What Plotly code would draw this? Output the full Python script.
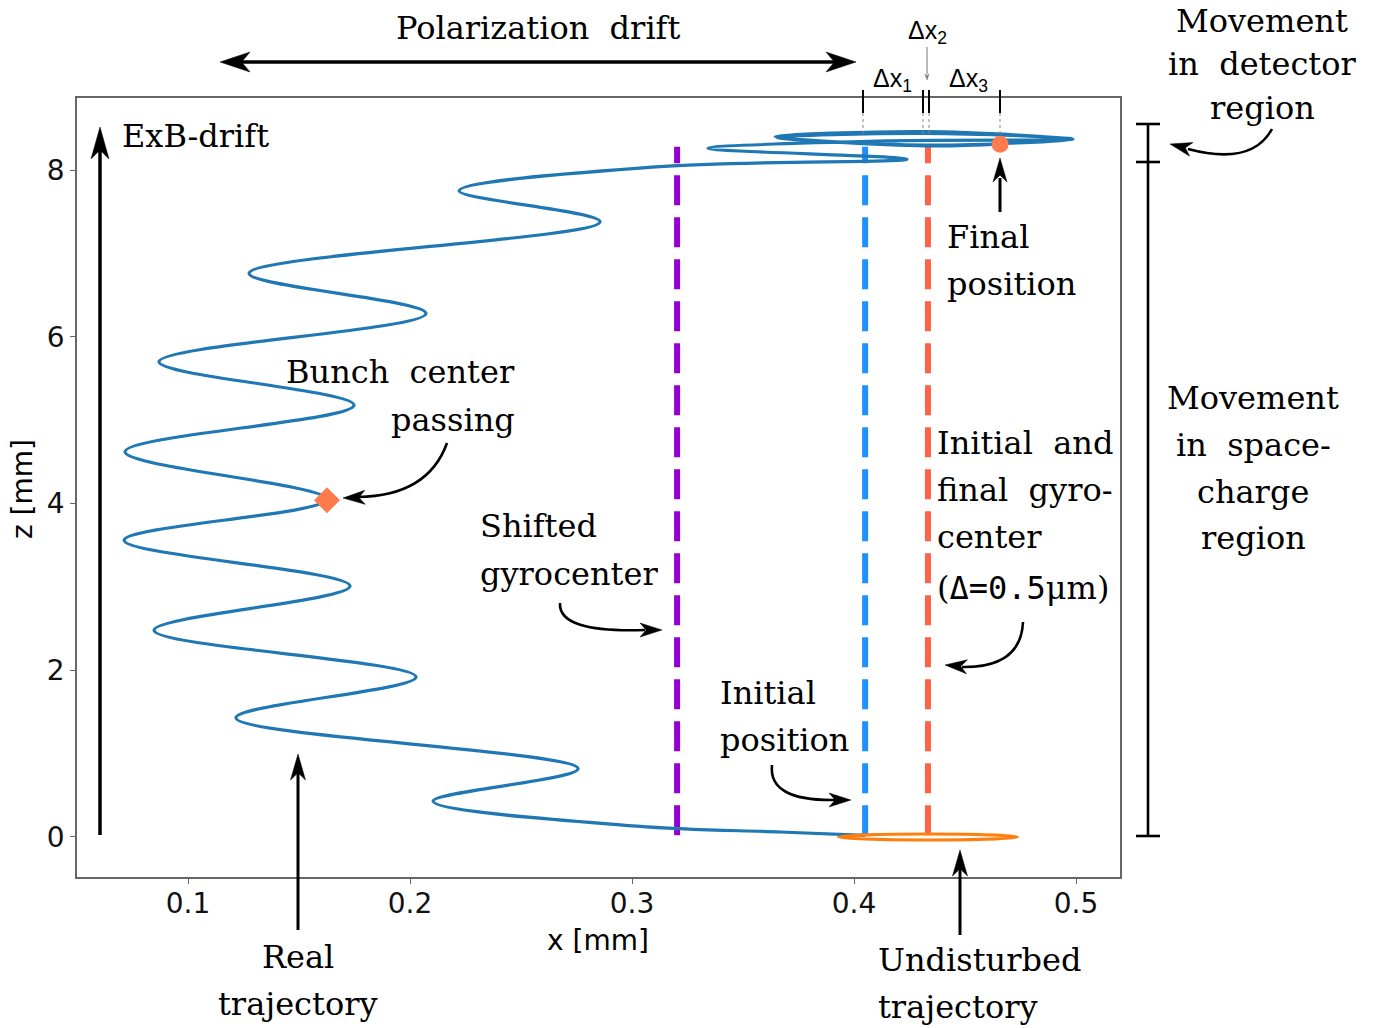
import plotly.graph_objects as go
import math

# ---------------- data ----------------
# real trajectory (x in mm, z in mm), turning points and a few intermediate points
traj_x = [0.405, 0.3667, 0.3023, 0.2104, 0.2757, 0.1216, 0.2027, 0.0847, 0.1730, 0.0712, 0.1626,
          0.0716, 0.1748, 0.0869, 0.2072, 0.1275, 0.2856, 0.2221, 0.3126, 0.4239, 0.3342, 0.4162,
          0.4986, 0.4320, 0.3644, 0.4320, 0.4986, 0.4320, 0.3653, 0.4320, 0.4658]
traj_z = [0.02, 0.06, 0.13, 0.43, 0.82, 1.43, 1.92, 2.48, 3.01, 3.56, 4.05,
          4.62, 5.18, 5.70, 6.28, 6.76, 7.38, 7.75, 8.04, 8.13, 8.26, 8.35,
          8.37, 8.46, 8.40, 8.30, 8.37, 8.44, 8.39, 8.29, 8.31]

# vertical reference lines
guide_names = ["Shifted gyrocenter", "Initial position", "Initial and final gyrocenter"]
guide_x = [0.3203, 0.4050, 0.4333]
guide_z = [0.02, 8.28]

# special points
bunch_x, bunch_z = [0.1626], [4.04]
final_x, final_z = [0.4658], [8.31]

# undisturbed gyration orbit (centre and half axes, mm)
orbit_cx, orbit_cz = 0.4333, 0.0
orbit_rx, orbit_rz = 0.0404, 0.035

x_ticks = [0.1, 0.2, 0.3, 0.4, 0.5]
x_tick_text = ["0.1", "0.2", "0.3", "0.4", "0.5"]
z_ticks = [0, 2, 4, 6, 8]
x_range = [0.05, 0.5198]
z_range = [-0.48, 8.864]

# ---------------- styling ----------------
W, H = 1387, 1028
L, R, T, B = 77, 1120, 98, 877   # plot area in pixels
SERIF = "DejaVu Serif"
SANS = "DejaVu Sans"
FS = 32
SP = "\u00a0 "  # wide word spacing as in the reference

def px(x):
    return (x - L) / (R - L)

def py(y):
    return (B - y) / (B - T)

guide_colors = ["#9400D3", "#1E90FF", "#FF6347"]

fig = go.Figure()
for name, gx, col in zip(guide_names, guide_x, guide_colors):
    fig.add_trace(go.Scatter(x=[gx, gx], y=guide_z, mode="lines", name=name,
                             line=dict(color=col, width=6, dash="30px,12px")))

fig.add_trace(go.Scatter(x=traj_x, y=traj_z, mode="lines", name="Real trajectory",
                         line=dict(color="#1f77b4", width=3.2, shape="spline", smoothing=1.0)))
fig.add_trace(go.Scatter(x=bunch_x, y=bunch_z, mode="markers", name="Bunch center passing",
                         marker=dict(symbol="diamond", size=20, color="#FF7A4D")))
fig.add_trace(go.Scatter(x=final_x, y=final_z, mode="markers", name="Final position",
                         marker=dict(symbol="circle", size=17, color="#FF7A4D")))

shapes = []
annotations = []

# undisturbed orbit
shapes.append(dict(type="circle", xref="x", yref="y",
                   x0=orbit_cx - orbit_rx, x1=orbit_cx + orbit_rx,
                   y0=orbit_cz - orbit_rz, y1=orbit_cz + orbit_rz,
                   line=dict(color="#ff7f0e", width=3)))

def line_px(x0, y0, x1, y1, width=3, color="black", dash=None):
    d = dict(type="line", xref="paper", yref="paper", x0=px(x0), y0=py(y0), x1=px(x1), y1=py(y1),
             line=dict(color=color, width=width))
    if dash:
        d["line"]["dash"] = dash
    shapes.append(d)

def path_px(pts_cmd, width=2.6, color="black"):
    s = ""
    for tok in pts_cmd:
        if isinstance(tok, str):
            s += tok + " "
        else:
            s += "%.5f,%.5f " % (px(tok[0]), py(tok[1]))
    shapes.append(dict(type="path", xref="paper", yref="paper", path=s.strip(),
                       line=dict(color=color, width=width)))

def head(tx, ty, dx, dy, length=24, width=14, color="black"):
    n = math.hypot(dx, dy)
    dx, dy = dx / n, dy / n
    nx, ny = -dy, dx
    bx, by = tx - length * dx, ty - length * dy
    p1 = (bx + nx * width / 2, by + ny * width / 2)
    p2 = (bx - nx * width / 2, by - ny * width / 2)
    notch = (tx - 0.72 * length * dx, ty - 0.72 * length * dy)
    s = "M %.5f,%.5f L %.5f,%.5f L %.5f,%.5f L %.5f,%.5f Z" % (
        px(tx), py(ty), px(p1[0]), py(p1[1]), px(notch[0]), py(notch[1]), px(p2[0]), py(p2[1]))
    shapes.append(dict(type="path", xref="paper", yref="paper", path=s,
                       fillcolor=color, line=dict(color=color, width=0.5)))

def txt(s, x, y, anchor="left", size=FS, family=SERIF, color="black", angle=0):
    annotations.append(dict(text=s, x=px(x), y=py(y), xref="paper", yref="paper",
                            xanchor=anchor, yanchor="middle", showarrow=False,
                            textangle=angle, font=dict(family=family, size=size, color=color)))

# ExB drift arrow
line_px(100, 835, 100, 140, width=3.5)
head(100, 127, 0, -1, length=32, width=18)
txt("ExB-drift", 120, 136)

# polarization drift double arrow
line_px(235, 62, 840, 62, width=3.5)
head(220, 62, -1, 0, length=30, width=20)
head(856, 62, 1, 0, length=30, width=20)
txt("Polarization" + SP + "drift", 538, 28, anchor="center")

# bunch center
txt("Bunch" + SP + "center", 517, 372, anchor="right")
txt("passing", 517, 420, anchor="right")
path_px(["M", (447, 443), "Q", (428, 496), (358, 497)])
head(343, 498, -1, 0.03, length=22, width=14)

# shifted gyrocenter
txt("Shifted", 478, 526)
txt("gyrocenter", 478, 574)
path_px(["M", (560, 603), "Q", (558, 633), (645, 630)])
head(662, 630, 1, 0, length=22, width=14)

# initial position
txt("Initial", 718, 693)
txt("position", 718, 740)
path_px(["M", (772, 765), "Q", (768, 801), (835, 800)])
head(851, 800, 1, 0, length=22, width=14)

# final position
txt("Final", 945, 237)
txt("position", 945, 284)
line_px(1000, 212, 1000, 178, width=3)
head(1000, 158, 0, -1, length=24, width=14)

# initial and final gyrocenter
txt("Initial" + SP + "and", 935, 443)
txt("final" + SP + "gyro-", 935, 490)
txt("center", 935, 537)
txt("(<span style='font-family:DejaVu Sans Mono'>Δ=0.5</span>μm)", 935, 588)
path_px(["M", (1023, 622), "Q", (1021, 668), (962, 667)])
head(945, 665, -1, -0.08, length=22, width=14)

# real trajectory
line_px(298, 930, 298, 772, width=3)
head(298, 754, 0, -1, length=26, width=15)
txt("Real", 298, 957, anchor="center")
txt("trajectory", 298, 1004, anchor="center")

# undisturbed trajectory
line_px(960, 935, 960, 868, width=3)
head(960, 850, 0, -1, length=26, width=15)
txt("Undisturbed", 876, 960)
txt("trajectory", 876, 1007)

# detector region
txt("Movement", 1262, 21, anchor="center")
txt("in" + SP + "detector", 1262, 64, anchor="center")
txt("region", 1262, 108, anchor="center")
path_px(["M", (1272, 129), "Q", (1252, 166), (1188, 149)])
head(1170, 144, -1, -0.25, length=22, width=14)

# space charge region
txt("Movement", 1253, 398, anchor="center")
txt("in" + SP + "space-", 1253, 445, anchor="center")
txt("charge", 1253, 492, anchor="center")
txt("region", 1253, 538, anchor="center")

# bracket
line_px(1148, 124, 1148, 836, width=2.6)
for yy in (124, 162, 836):
    line_px(1136, yy, 1160, yy, width=2.6)

# delta-x markers
for xx in (863, 923, 929, 1000):
    line_px(xx, 90, xx, 113, width=2)
    line_px(xx, 113, xx, 135, width=1, color="#888888", dash="dot")
txt("Δx<sub>1</sub>", 892, 80, anchor="center", size=25, family="Liberation Sans")
txt("Δx<sub>3</sub>", 968, 80, anchor="center", size=25, family="Liberation Sans")
txt("Δx<sub>2</sub>", 927, 32, anchor="center", size=25, family="Liberation Sans")
line_px(927, 47, 927, 74, width=1, color="#777777")
head(927, 80, 0, 1, length=6, width=4, color="#777777")

# axis titles
txt("x [mm]", 598, 940, anchor="center", size=28, family=SANS)
txt("z [mm]", 22, 489, anchor="center", size=28, family=SANS, angle=-90)

axis_common = dict(showgrid=False, zeroline=False, showline=True, mirror=True,
                   linecolor="#666666", linewidth=1.5, ticks="outside", ticklen=5,
                   tickwidth=1.3, tickcolor="#666666",
                   tickfont=dict(family=SANS, size=28, color="#111111"))

fig.update_layout(
    width=W, height=H,
    margin=dict(l=L, r=W - R, t=T, b=H - B, autoexpand=False),
    paper_bgcolor="white", plot_bgcolor="white",
    showlegend=False,
    xaxis=dict(range=x_range, tickvals=x_ticks, ticktext=x_tick_text, ticklabelstandoff=-4,
               **axis_common),
    yaxis=dict(range=z_range, tickvals=z_ticks, **axis_common),
    shapes=shapes,
    annotations=annotations,
)

fig.write_html("out.html", config={"displayModeBar": False})
with open("out.html", "r", encoding="utf-8") as f:
    html = f.read()
html = html.replace("<body>", "<body style=\"margin:0;padding:0;\">", 1)
with open("out.html", "w", encoding="utf-8") as f:
    f.write(html)
